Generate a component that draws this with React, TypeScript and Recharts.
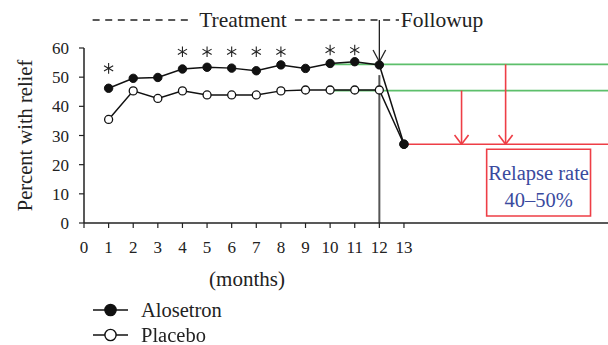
import React from 'react';
import {
  ComposedChart, Line, Scatter, XAxis, YAxis, ReferenceLine, ReferenceArea, ReferenceDot, Legend,
} from 'recharts';

// ---- data ----
const months = [1, 2, 3, 4, 5, 6, 7, 8, 9, 10, 11, 12, 13];
const alosetron = [46.2, 49.6, 49.9, 52.8, 53.4, 53.1, 52.2, 54.2, 53.0, 54.7, 55.3, 54.2, 27.0];
const placebo = [35.5, 45.3, 42.7, 45.3, 43.9, 43.9, 43.9, 45.3, 45.6, 45.6, 45.6, 45.6, 27.0];
const asteriskMonths = [1, 4, 5, 6, 7, 8, 10, 11];
const asteriskLevels = [53.0, 58.7, 58.7, 58.7, 58.7, 58.7, 59.3, 59.3];
const xTicks = [0, 1, 2, 3, 4, 5, 6, 7, 8, 9, 10, 11, 12, 13];
const yTicks = [0, 10, 20, 30, 40, 50, 60];
const seriesNames = ['Alosetron', 'Placebo'];
const alosetronEndLevel = 54.4;
const placeboEndLevel = 45.4;
const followupLevel = 27.0;
const relapseText = ['Relapse rate', '40–50%'];

const rows = months.map((m, i) => ({ month: m, alosetron: alosetron[i], placebo: placebo[i] }));
const asteriskRows = asteriskMonths.map((m, i) => ({ month: m, level: asteriskLevels[i] }));

const FONT = "'Liberation Serif', serif";
const X_MAX = 21.29;
const TOP = 69.6;
const GREEN = '#5dbf6b';
const RED = '#ee3e46';
const BLUE = '#3a4a9e';
const TXT = { fontFamily: FONT };

const Asterisk = (props: any) => {
  const { cx, cy } = props;
  if (cx == null || cy == null) return null;
  const r = 5.3;
  const segs = [90, 30, 150].map((a) => {
    const rad = (a * Math.PI) / 180;
    const dx = r * Math.cos(rad);
    const dy = r * Math.sin(rad);
    return `M${cx - dx},${cy + dy}L${cx + dx},${cy - dy}`;
  });
  return <path d={segs.join('')} stroke="#222" strokeWidth={1.1} fill="none" />;
};

const renderLegend = () => (
  <div style={{ height: 48, paddingLeft: 93, fontFamily: FONT, fontSize: 20.5, color: '#222', textAlign: 'left' }}>
    {seriesNames.map((name, i) => (
      <div key={name} style={{ display: 'flex', alignItems: 'center', height: 25 }}>
        <svg width={36} height={14} style={{ display: 'block' }}>
          <line x1={0} y1={7} x2={35} y2={7} stroke="#111" strokeWidth={1.5} />
          <circle cx={17.5} cy={7} r={5.6} fill={i === 0 ? '#111' : '#fff'} stroke="#111" strokeWidth={1.4} />
        </svg>
        <span style={{ marginLeft: 12, lineHeight: '24px', fontFamily: FONT }}>{name}</span>
      </div>
    ))}
  </div>
);

const seg = (x1: number, y1: number, x2: number, y2: number) => [{ x: x1, y: y1 }, { x: x2, y: y2 }];

export default function App() {
  return (
    <div style={{ position: 'fixed', left: 0, top: 0, width: 608, height: 345, background: '#fff', fontFamily: FONT }}>
      <ComposedChart width={608} height={345} data={rows} margin={{ top: 48, right: 0, bottom: 0, left: 0 }} style={TXT}>
        <XAxis
          dataKey="month"
          type="number"
          domain={[0, X_MAX]}
          ticks={xTicks}
          interval={0}
          height={74}
          tickSize={5}
          tickMargin={13}
          axisLine={{ stroke: '#222', strokeWidth: 1.5 }}
          tickLine={{ stroke: '#222', strokeWidth: 1.2 }}
          tick={{ fontSize: 17, fill: '#222', style: TXT }}
          label={{ value: '(months)', position: 'insideTop', offset: 48, dx: -99, fontSize: 21, fill: '#222', style: TXT }}
        />
        <YAxis
          domain={[0, 60]}
          ticks={yTicks}
          width={84}
          tickSize={5}
          tickMargin={10}
          axisLine={{ stroke: '#222', strokeWidth: 1.5 }}
          tickLine={{ stroke: '#222', strokeWidth: 1.2 }}
          tick={{ fontSize: 17, fill: '#222', style: TXT }}
          label={{ value: 'Percent with relief', angle: -90, position: 'insideLeft', offset: 25, fontSize: 20.5, fill: '#222', style: { textAnchor: 'middle', fontFamily: FONT } }}
        />
        <Legend verticalAlign="bottom" align="left" content={renderLegend} />

        {/* top annotation */}
        <ReferenceLine segment={seg(0.35, TOP, 4.33, TOP)} stroke="#222" strokeWidth={1.3} strokeDasharray="7 5.6" ifOverflow="visible" />
        <ReferenceLine segment={seg(8.57, TOP, 12.8, TOP)} stroke="#222" strokeWidth={1.3} strokeDasharray="7 5.6" ifOverflow="visible" />
        <ReferenceDot x={6.46} y={69.97} r={0} fill="none" stroke="none" ifOverflow="visible"
          label={{ value: 'Treatment', position: 'center', fontSize: 21.5, fill: '#222', style: TXT }} />
        <ReferenceDot x={12.87} y={69.97} r={0} fill="none" stroke="none" ifOverflow="visible"
          label={{ value: 'Followup', position: 'right', offset: 0, fontSize: 21.5, fill: '#222', style: TXT }} />

        {/* vertical line at month 12 with arrow */}
        <ReferenceLine segment={seg(12, TOP, 12, 55.3)} stroke="#222" strokeWidth={1.3} ifOverflow="visible" />
        <ReferenceLine segment={seg(11.744, 59.3, 12, 55.3)} stroke="#222" strokeWidth={1.3} ifOverflow="visible" />
        <ReferenceLine segment={seg(12.256, 59.3, 12, 55.3)} stroke="#222" strokeWidth={1.3} ifOverflow="visible" />
        <ReferenceLine segment={seg(12, 50.7, 12, 0)} stroke="#555" strokeWidth={2} ifOverflow="visible" />

        {/* green levels */}
        <ReferenceLine segment={seg(10, alosetronEndLevel, X_MAX, alosetronEndLevel)} stroke={GREEN} strokeWidth={1.6} ifOverflow="visible" />
        <ReferenceLine segment={seg(10, placeboEndLevel, X_MAX, placeboEndLevel)} stroke={GREEN} strokeWidth={1.6} ifOverflow="visible" />

        {/* red relapse */}
        <ReferenceLine segment={seg(13, followupLevel, X_MAX, followupLevel)} stroke={RED} strokeWidth={1.6} ifOverflow="visible" />
        <ReferenceLine segment={seg(15.34, placeboEndLevel, 15.34, followupLevel)} stroke={RED} strokeWidth={1.6} ifOverflow="visible" />
        <ReferenceLine segment={seg(15.056, 30.2, 15.34, followupLevel)} stroke={RED} strokeWidth={1.6} ifOverflow="visible" />
        <ReferenceLine segment={seg(15.624, 30.2, 15.34, followupLevel)} stroke={RED} strokeWidth={1.6} ifOverflow="visible" />
        <ReferenceLine segment={seg(17.13, alosetronEndLevel, 17.13, followupLevel)} stroke={RED} strokeWidth={1.6} ifOverflow="visible" />
        <ReferenceLine segment={seg(16.846, 30.2, 17.13, followupLevel)} stroke={RED} strokeWidth={1.6} ifOverflow="visible" />
        <ReferenceLine segment={seg(17.414, 30.2, 17.13, followupLevel)} stroke={RED} strokeWidth={1.6} ifOverflow="visible" />
        <ReferenceArea
          x1={16.36} x2={20.58} y1={2.4} y2={25.27}
          fill="#fff" fillOpacity={1} stroke={RED} strokeWidth={1.6} ifOverflow="visible"
          label={{
            content: (p: any) => {
              const vb = p.viewBox || {};
              const cx = vb.x + vb.width / 2;
              return (
                <text x={cx} textAnchor="middle" style={TXT} fontSize={20.5} fill={BLUE}>
                  <tspan x={cx} y={vb.y + 30.7}>{relapseText[0]}</tspan>
                  <tspan x={cx} y={vb.y + 57.4}>{relapseText[1]}</tspan>
                </text>
              );
            },
          }}
        />

        <Line dataKey="placebo" stroke="#111" strokeWidth={1.5} isAnimationActive={false} activeDot={false}
          dot={{ r: 4, fill: '#fff', stroke: '#111', strokeWidth: 1.3 }} />
        <Line dataKey="alosetron" stroke="#111" strokeWidth={1.5} isAnimationActive={false} activeDot={false}
          dot={{ r: 4.2, fill: '#111', stroke: '#111', strokeWidth: 1 }} />
        <Scatter data={asteriskRows} dataKey="level" shape={Asterisk} isAnimationActive={false} legendType="none" />
      </ComposedChart>
    </div>
  );
}
